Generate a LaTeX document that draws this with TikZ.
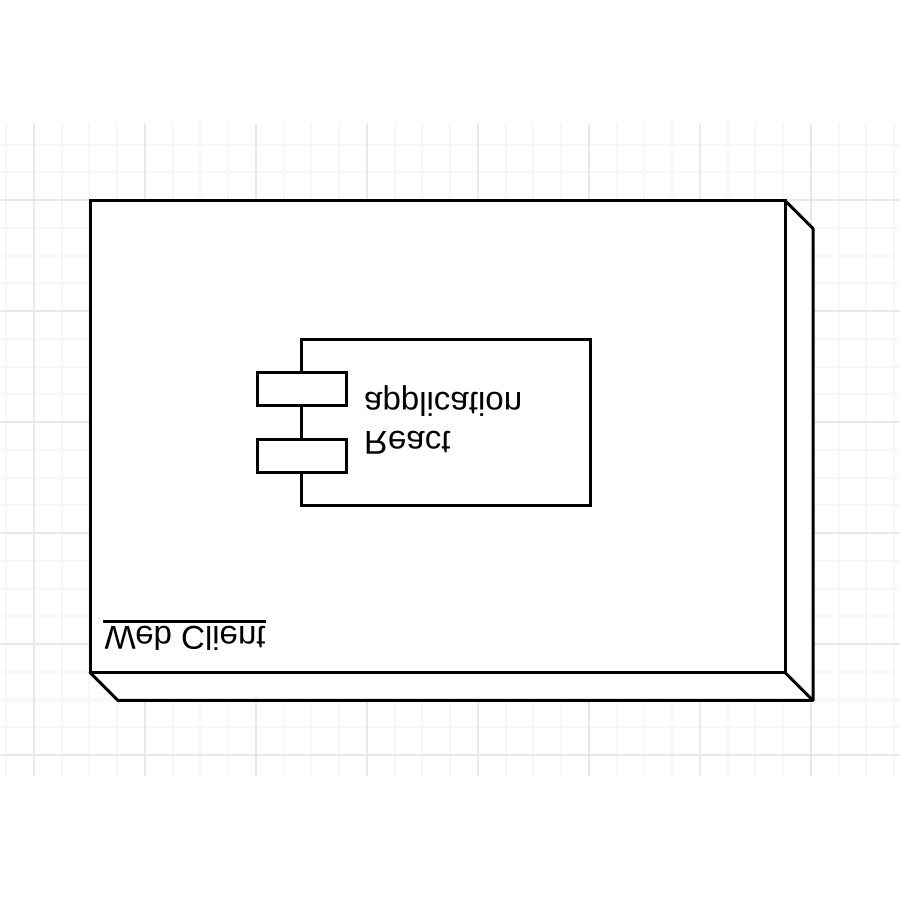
\documentclass[tikz,border=0pt]{standalone}
\usepackage{fontspec}
\setmainfont{Liberation Sans}
\tikzset{
	boxline/.style={draw=black,line width=0.03cm,fill=white,line join=miter},
	gridminor/.style={color=black!3,line width=0.02cm},
	gridmajor/.style={color=black!9,line width=0.02cm},
	flipped/.style={yscale=-1,transform shape,inner sep=0pt,font=\fontsize{9.4}{11}\selectfont},
}
\begin{document}
\begin{tikzpicture}[line join=round]
	\useasboundingbox (0,0) rectangle (9,9);
	\fill[white] (0,0) rectangle (9,9);
	% grid
	\foreach \i in {-1,...,31} {
		\draw[gridminor] ({0.34+0.2775*\i},1.24)-- ({0.34+0.2775*\i},7.76);
	}
	\foreach \i in {0,...,22} {
		\draw[gridminor] (0,{1.45+0.2775*\i})-- (9,{1.45+0.2775*\i});
	}
	\foreach \i in {0,...,7} {
		\draw[gridmajor] ({0.34+1.11*\i},1.24)-- ({0.34+1.11*\i},7.76);
	}
	\foreach \i in {0,...,5} {
		\draw[gridmajor] (0,{1.45+1.11*\i})-- (9,{1.45+1.11*\i});
	}
	% web client box
	\draw[boxline,line join=round] (0.90,2.275)-- (1.18,1.995)-- (8.13,1.995)-- (8.13,6.715)-- (7.85,6.995)-- (7.85,2.275)-- cycle;
	\draw[boxline] (7.85,2.275)-- (8.13,1.995);
	\node[boxline,minimum width=6.95cm,minimum height=4.72cm,inner sep=0pt] (client) at (4.375,4.635) {};
	\node[flipped,anchor=base west] (clientlabel) at (1.04,2.73) {Web Client};
	\draw[line width=0.03cm] (1.03,2.78)-- (2.66,2.78);
	% component
	\node[boxline,minimum width=2.89cm,minimum height=1.66cm,inner sep=0pt] (react) at (4.455,4.775) {};
	\node[boxline,minimum width=0.89cm,minimum height=0.33cm,inner sep=0pt] (tabtop) at (3.015,5.11) {};
	\node[boxline,minimum width=0.89cm,minimum height=0.33cm,inner sep=0pt] (tabbottom) at (3.015,4.44) {};
	\node[flipped,anchor=base west] (reactlabel) at (3.635,4.68) {React};
	\node[flipped,anchor=base west] (applabel) at (3.635,5.07) {application};
\end{tikzpicture}
\end{document}
